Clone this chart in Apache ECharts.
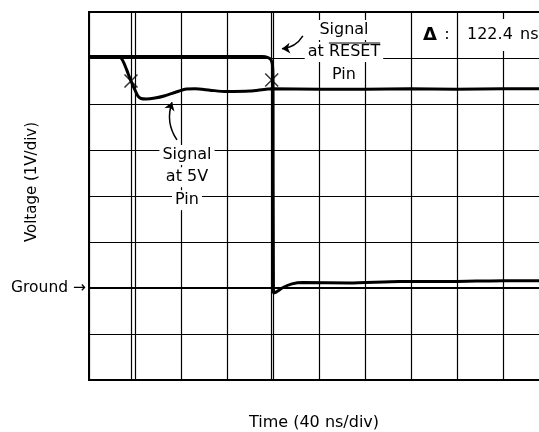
<!DOCTYPE html>
<html><head><meta charset="utf-8">
<script src="https://cdn.jsdelivr.net/npm/echarts@6/dist/echarts.min.js"></script>
<style>html,body{margin:0;padding:0;background:#fff}#c{width:539px;height:432px}</style>
</head><body><div id="c"></div>
<script>
// Time axis (ns) and voltage axis (V), ground = 0 V
const timeTicks = [0, 40, 80, 120, 160, 200, 240, 280, 320, 360, 400];
const voltTicks = [-2, -1, 0, 1, 2, 3, 4, 5, 6];
// Signal at 5V pin
const t5V = [0, 24.3, 27.8, 30.4, 33.9, 36.5, 40, 42.6, 45.2, 49.6, 57.4, 66.1, 74.8, 83.5, 92.2, 105.2, 119.1, 140, 160, 200.9, 240, 279, 319, 360, 400];
const v5V = [5.03, 5.03, 5.0, 4.89, 4.67, 4.5, 4.3, 4.17, 4.12, 4.11, 4.13, 4.18, 4.25, 4.32, 4.33, 4.30, 4.27, 4.28, 4.33, 4.32, 4.32, 4.33, 4.32, 4.33, 4.33];
// Signal at RESET pin
const tReset = [0, 150.4, 155.7, 158.3, 159.6, 160, 160.4, 162.6, 168.7, 176.5, 186, 227, 270, 314, 360, 400];
const vReset = [5.03, 5.03, 5.01, 4.96, 4.83, 4.52, -0.11, -0.09, 0.01, 0.09, 0.12, 0.11, 0.14, 0.14, 0.16, 0.16];
// Cursors (ns) and delta
const cursorTimes = [36.5, 158.9];
const cursorMarks = [[36.5, 4.5], [158.9, 4.52]];
const deltaText = '122.4';
// Annotation arrows [start, end] in data coords
const arrow5V = [[76.5, 3.22], [72.2, 4.04]];
const arrowReset = [[186, 5.48], [167.8, 5.2]];

const FONT = 'DejaVu Sans';
const chart = echarts.init(document.getElementById('c'), null, {renderer: 'canvas'});
const zip = (a, b) => a.map((t, i) => [t, b[i]]);

chart.setOption({
  animation: false,
  backgroundColor: '#fff',
  grid: {left: 89, top: 12, width: 460, height: 368, show: true, borderColor: '#000', borderWidth: 2,
    backgroundColor: 'transparent', containLabel: false, outerBoundsMode: 'none'},
  xAxis: {
    type: 'value', min: timeTicks[0], max: timeTicks[timeTicks.length - 1], interval: 40,
    axisLine: {show: true, lineStyle: {color: '#000', width: 2}}, axisTick: {show: false}, axisLabel: {show: false},
    splitLine: {show: true, lineStyle: {color: '#000', width: 1.2}}
  },
  yAxis: {
    type: 'value', min: voltTicks[0], max: voltTicks[voltTicks.length - 1], interval: 1,
    axisLine: {show: true, lineStyle: {color: '#000', width: 2}}, axisTick: {show: false},
    axisLabel: {show: true, margin: 3, fontFamily: FONT, fontSize: 15.5, color: '#000',
      formatter: v => v === 0 ? 'Ground \u2192' : ''},
    splitLine: {show: true, lineStyle: {color: '#000', width: 1.2}}
  },
  series: [
    {type: 'line', data: zip(t5V, v5V), showSymbol: false, smooth: 0.25, lineStyle: {color: '#000', width: 3},
      markLine: {silent: true, symbol: 'none', label: {show: false}, lineStyle: {color: '#000', width: 1.2, type: 'solid'},
        data: cursorTimes.map(t => ({xAxis: t}))}},
    {type: 'line', data: zip(tReset, vReset), showSymbol: false, smooth: 0.2, lineStyle: {color: '#000', width: 3}},
    {type: 'scatter', data: cursorMarks, symbol: 'path://M0,0L10,10M10,0L0,10', symbolSize: 13,
      itemStyle: {color: 'none', borderColor: '#000', borderWidth: 1.5}},
    {type: 'lines', coordinateSystem: 'cartesian2d', polyline: false, symbol: ['none', 'arrow'], symbolSize: 8,
      lineStyle: {color: '#000', width: 1.5, opacity: 1},
      data: [{coords: arrow5V, lineStyle: {curveness: 0.25}}, {coords: arrowReset, lineStyle: {curveness: 0.25}}]}
  ]
});

const FNT = '16px "' + FONT + '"';
// Annotation labels anchored in data coordinates
const labels = [
  {t: 221.7, v: 5.61, s: 'Signal'},
  {t: 221.7, v: 5.13, s: 'at RESET', over: 'RESET', pre: 'at '},
  {t: 221.7, v: 4.63, s: 'Pin'},
  {t: 85.2, v: 2.89, s: 'Signal'},
  {t: 85.2, v: 2.41, s: 'at 5V'},
  {t: 85.2, v: 1.91, s: 'Pin'}
];
const ctx = document.createElement('canvas').getContext('2d');
ctx.font = FNT;
const g = [];
labels.forEach(l => {
  const p = chart.convertToPixel({gridIndex: 0}, [l.t, l.v]);
  g.push({type: 'text', x: p[0], y: p[1], z: 10,
    style: {text: l.s, font: FNT, fill: '#000', align: 'center', verticalAlign: 'middle',
      backgroundColor: '#fff', padding: [2, 3]}});
  if (l.over) {
    const w = ctx.measureText(l.s).width;
    const x0 = p[0] - w / 2 + ctx.measureText(l.pre).width;
    const x1 = x0 + ctx.measureText(l.over).width;
    g.push({type: 'line', z: 11, shape: {x1: x0, y1: p[1] - 9, x2: x1, y2: p[1] - 9}, style: {stroke: '#000', lineWidth: 1}});
  }
});
// Delta readout: pieces placed in data coordinates
const deltaParts = [{t: 290.4, s: '\u0394', f: 'bold 18px "' + FONT + '"'}, {t: 309, s: ':'}, {t: 328.7, s: deltaText}, {t: 374.8, s: 'ns'}];
deltaParts.forEach(d => {
  const p = chart.convertToPixel({gridIndex: 0}, [d.t, 5.5]);
  g.push({type: 'text', x: p[0], y: p[1], z: 10,
    style: {text: d.s, font: d.f || FNT, fill: '#000', align: 'left', verticalAlign: 'middle',
      backgroundColor: '#fff', padding: [8, 0]}});
});
// Axis titles
const gr = chart.getModel().getComponent('grid').coordinateSystem.getRect();
g.push({type: 'text', x: gr.x - 57, y: gr.y + 170, rotation: Math.PI / 2, z: 10,
  style: {text: 'Voltage (1V/div)', font: '15px "' + FONT + '"', fill: '#000', align: 'center', verticalAlign: 'middle'}});
g.push({type: 'text', x: 314, y: gr.y + gr.height + 43, z: 10,
  style: {text: 'Time (40 ns/div)', font: FNT, fill: '#000', align: 'center', verticalAlign: 'middle'}});
chart.setOption({graphic: g});
</script></body></html>
